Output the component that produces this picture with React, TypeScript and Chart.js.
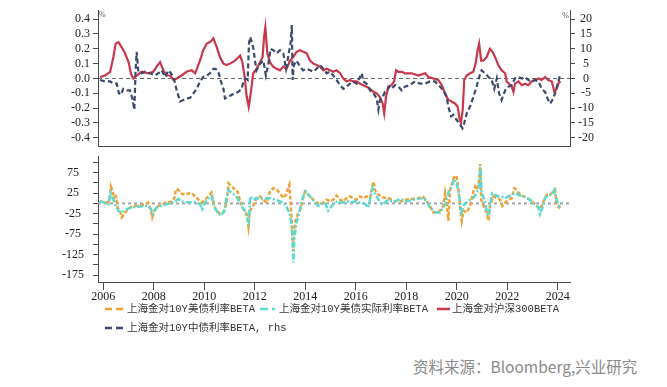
import React, { useEffect, useRef } from "react";
import { Chart, registerables } from "chart.js";
Chart.register(...registerables);

// ---------- data ----------
const yearTicks = [2006, 2008, 2010, 2012, 2014, 2016, 2018, 2020, 2022, 2024];
const leftTicks = [-0.4, -0.3, -0.2, -0.1, 0, 0.1, 0.2, 0.3, 0.4];
const rightTicks = [-20, -15, -10, -5, 0, 5, 10, 15, 20];
const lowerTicks = [-175, -150, -125, -100, -75, -50, -25, 0, 25, 50, 75, 100];
const lowerLabels = [75, 25, -25, -75, -125, -175];

const seriesNames = [
  "上海金对10Y美债利率BETA",
  "上海金对10Y美债实际利率BETA",
  "上海金对沪深300BETA",
  "上海金对10Y中债利率BETA, rhs",
];

// 上海金对沪深300BETA (left axis)
const csiYears = [2005.87, 2006.07, 2006.27, 2006.4, 2006.49, 2006.6, 2006.73, 2006.86, 2007.0, 2007.1, 2007.19, 2007.32, 2007.52, 2007.79, 2007.98, 2008.11, 2008.25, 2008.38, 2008.51, 2008.65, 2008.78, 2008.91, 2009.1, 2009.3, 2009.5, 2009.64, 2009.83, 2009.96, 2010.1, 2010.23, 2010.36, 2010.5, 2010.62, 2010.76, 2010.89, 2011.02, 2011.22, 2011.42, 2011.51, 2011.6, 2011.68, 2011.76, 2011.84, 2011.94, 2012.07, 2012.21, 2012.31, 2012.37, 2012.42, 2012.5, 2012.6, 2012.73, 2012.87, 2013.0, 2013.13, 2013.26, 2013.4, 2013.53, 2013.66, 2013.79, 2013.92, 2014.06, 2014.19, 2014.32, 2014.45, 2014.58, 2014.72, 2014.85, 2014.98, 2015.11, 2015.24, 2015.38, 2015.51, 2015.64, 2015.77, 2015.9, 2016.04, 2016.17, 2016.3, 2016.43, 2016.57, 2016.7, 2016.83, 2016.96, 2017.07, 2017.13, 2017.2, 2017.29, 2017.42, 2017.52, 2017.6, 2017.69, 2017.82, 2017.95, 2018.22, 2018.48, 2018.75, 2018.88, 2019.08, 2019.27, 2019.41, 2019.54, 2019.67, 2019.8, 2019.94, 2020.04, 2020.11, 2020.17, 2020.24, 2020.3, 2020.4, 2020.53, 2020.66, 2020.75, 2020.83, 2020.89, 2020.97, 2021.06, 2021.19, 2021.32, 2021.42, 2021.52, 2021.65, 2021.78, 2021.92, 2021.98, 2022.07, 2022.18, 2022.25, 2022.31, 2022.45, 2022.58, 2022.71, 2022.84, 2022.97, 2023.1, 2023.24, 2023.37, 2023.5, 2023.63, 2023.77, 2023.87, 2023.96, 2024.06, 2024.11];
const csiBeta = [0.01, 0.02, 0.045, 0.145, 0.235, 0.245, 0.21, 0.17, 0.11, 0.03, 0.0, 0.02, 0.045, 0.035, 0.045, 0.08, 0.11, 0.055, 0.02, 0.02, -0.01, 0.0, 0.02, 0.045, 0.055, 0.035, 0.12, 0.19, 0.235, 0.245, 0.27, 0.21, 0.145, 0.1, 0.09, 0.1, 0.12, 0.155, 0.11, 0.01, -0.12, -0.19, -0.1, 0.035, 0.065, 0.11, 0.145, 0.28, 0.345, 0.17, 0.11, 0.08, 0.065, 0.055, 0.08, 0.065, 0.12, 0.145, 0.18, 0.19, 0.18, 0.17, 0.12, 0.1, 0.09, 0.08, 0.055, 0.065, 0.055, 0.045, 0.055, 0.035, 0.0, -0.02, -0.01, -0.02, -0.02, -0.035, -0.045, -0.055, -0.07, -0.09, -0.1, -0.125, -0.17, -0.235, -0.125, -0.055, -0.045, -0.02, 0.055, 0.045, 0.045, 0.035, 0.035, 0.02, 0.035, 0.01, 0.0, -0.01, -0.045, -0.1, -0.145, -0.155, -0.17, -0.19, -0.27, -0.3, -0.21, -0.01, 0.02, 0.035, 0.045, 0.1, 0.19, 0.235, 0.12, 0.12, 0.145, 0.2, 0.18, 0.145, 0.09, 0.055, 0.035, -0.02, -0.035, -0.055, -0.09, -0.035, -0.02, -0.045, -0.035, -0.045, -0.02, -0.01, 0.0, -0.01, 0.01, -0.01, -0.02, -0.09, -0.07, -0.02, -0.03];

// 上海金对10Y中债利率BETA (right axis, %)
const cnYears = [2005.87, 2006.07, 2006.27, 2006.4, 2006.53, 2006.62, 2006.7, 2006.79, 2006.93, 2007.06, 2007.15, 2007.23, 2007.28, 2007.32, 2007.39, 2007.52, 2007.65, 2007.85, 2008.05, 2008.18, 2008.31, 2008.45, 2008.58, 2008.68, 2008.78, 2008.91, 2009.04, 2009.17, 2009.3, 2009.44, 2009.57, 2009.7, 2009.83, 2009.96, 2010.1, 2010.23, 2010.36, 2010.45, 2010.56, 2010.66, 2010.76, 2010.82, 2010.96, 2011.09, 2011.22, 2011.35, 2011.48, 2011.55, 2011.64, 2011.72, 2011.77, 2011.82, 2011.94, 2012.01, 2012.07, 2012.21, 2012.34, 2012.44, 2012.54, 2012.63, 2012.73, 2012.87, 2013.0, 2013.13, 2013.24, 2013.3, 2013.37, 2013.42, 2013.47, 2013.5, 2013.55, 2013.66, 2013.79, 2013.92, 2014.06, 2014.19, 2014.32, 2014.45, 2014.58, 2014.72, 2014.85, 2014.98, 2015.11, 2015.24, 2015.38, 2015.51, 2015.64, 2015.77, 2015.9, 2016.04, 2016.17, 2016.24, 2016.3, 2016.43, 2016.57, 2016.7, 2016.83, 2016.9, 2016.96, 2017.07, 2017.16, 2017.25, 2017.33, 2017.42, 2017.56, 2017.69, 2017.82, 2017.95, 2018.15, 2018.35, 2018.55, 2018.75, 2018.94, 2019.14, 2019.34, 2019.47, 2019.6, 2019.67, 2019.78, 2019.87, 2020.0, 2020.13, 2020.23, 2020.3, 2020.4, 2020.53, 2020.66, 2020.79, 2020.89, 2020.99, 2021.12, 2021.26, 2021.39, 2021.49, 2021.59, 2021.68, 2021.78, 2021.92, 2022.05, 2022.18, 2022.31, 2022.45, 2022.58, 2022.71, 2022.84, 2022.97, 2023.1, 2023.24, 2023.37, 2023.5, 2023.6, 2023.7, 2023.79, 2023.9, 2024.0, 2024.09];
const cnBeta = [-0.5, -1, -1, -1.75, -1.75, -5, -5.5, -3.5, -4, -4, -6.75, -10.5, 2.75, 9, 2.25, 1.75, 2.25, 1.75, 1, 1.75, 2.75, 0.5, 2.75, 1.75, 0.5, -4, -7.75, -7.25, -6.75, -6.5, -5, -3.5, -1, 0.5, 1, 1.75, 3.25, 3.25, 2.25, -1, -3.5, -6.75, -6.25, -5.5, -5, -4.5, -3.5, -1, 0, -0.5, 11.75, 14, 10.5, 6, 2.75, 5, 6, 1, 5, 10, 9.5, 8.5, 9.5, 8.5, 3.25, 6, 9.5, 11.75, 18, -0.5, 4.5, 6, 4, 2.75, 3.25, 2.75, 2.25, 3.25, 4.5, 3.25, 1.75, 2.25, 1, -0.5, -2.25, -3.5, -2.75, -1.75, -1, -1.75, 0.5, 1.75, -1, -1.75, -4, -5, -6.75, -10.5, -7.25, -6.25, -4.5, -4, -2.75, -3.5, -2.25, -2.75, -4, -2.75, -2.25, -1, -1.75, -1.75, -1, -1, -2.75, -4, -6.25, -9.5, -12.75, -12.25, -14, -15.5, -16.75, -15, -11.75, -9.5, -6.25, -2.75, 0.5, 2.75, 1.75, 0.5, -0.5, -3.5, 0, -5, -7.25, -4, -2.75, -2.25, 0, 0.5, 0, 0.5, -0.5, -1, -0.5, -1, -3.5, -4.5, -6.75, -8.5, -7.25, -5, -1.75, 1];

// 上海金对10Y美债利率BETA (lower panel)
const usYears = [2005.87, 2006.07, 2006.2, 2006.27, 2006.3, 2006.35, 2006.44, 2006.5, 2006.57, 2006.66, 2006.73, 2006.83, 2006.93, 2007.06, 2007.26, 2007.45, 2007.65, 2007.79, 2007.89, 2007.94, 2008.05, 2008.18, 2008.31, 2008.45, 2008.58, 2008.71, 2008.82, 2008.88, 2008.97, 2009.1, 2009.24, 2009.37, 2009.5, 2009.64, 2009.77, 2009.9, 2010.03, 2010.16, 2010.29, 2010.4, 2010.49, 2010.62, 2010.76, 2010.89, 2010.96, 2011.09, 2011.22, 2011.32, 2011.42, 2011.55, 2011.68, 2011.75, 2011.81, 2011.94, 2012.07, 2012.21, 2012.34, 2012.47, 2012.6, 2012.73, 2012.87, 2013.0, 2013.13, 2013.24, 2013.3, 2013.37, 2013.42, 2013.46, 2013.5, 2013.53, 2013.55, 2013.63, 2013.73, 2013.82, 2013.9, 2013.99, 2014.08, 2014.19, 2014.32, 2014.45, 2014.58, 2014.72, 2014.85, 2014.98, 2015.11, 2015.24, 2015.38, 2015.51, 2015.64, 2015.77, 2015.9, 2016.04, 2016.17, 2016.3, 2016.43, 2016.57, 2016.63, 2016.7, 2016.76, 2016.9, 2017.03, 2017.16, 2017.29, 2017.42, 2017.56, 2017.69, 2017.82, 2017.95, 2018.22, 2018.48, 2018.68, 2018.81, 2018.94, 2019.08, 2019.21, 2019.34, 2019.47, 2019.54, 2019.6, 2019.67, 2019.74, 2019.87, 2019.94, 2020.0, 2020.07, 2020.13, 2020.2, 2020.27, 2020.4, 2020.53, 2020.66, 2020.73, 2020.79, 2020.89, 2020.93, 2020.97, 2021.06, 2021.19, 2021.26, 2021.32, 2021.45, 2021.59, 2021.72, 2021.81, 2021.92, 2022.05, 2022.18, 2022.29, 2022.38, 2022.51, 2022.64, 2022.78, 2022.91, 2023.04, 2023.17, 2023.3, 2023.44, 2023.57, 2023.7, 2023.83, 2023.9, 2023.96, 2024.06, 2024.16];
const usBeta = [5, 2, 3, 21, 41, 33, 13, 17, -10, -18, -34, -26, -18, -10, -6, -6, -2, 2, -18, -34, -14, -6, -5, 2, 3, 5, 13, 35, 33, 24, 21, 24, 25, 17, 9, 2, 9, 17, 27, -6, -18, -26, -22, 2, 49, 41, 33, 29, 6, -14, -26, -57, -18, -6, 13, 17, 9, 2, 29, 37, 33, 25, 13, 21, 33, 45, 2, -38, -85, -116, -69, -38, -22, -14, 9, 29, 25, 17, 9, 2, -2, 2, 9, 5, 9, 19, 9, 5, 13, 17, 13, 9, 17, 13, 17, 13, 33, 53, 33, 21, 17, 13, 13, 9, 5, 5, 5, 9, 11, 13, 16, 5, -6, -22, -22, -18, -6, 25, 2, -42, 33, 60, 68, 64, 33, -6, -42, -18, -22, -6, 29, 41, 33, 56, 96, 9, -6, -22, -42, -6, 17, 13, 9, -6, 2, 9, 13, 37, 33, 21, 17, 13, 9, 2, -6, -14, 5, 21, 21, 29, 33, -6, -10, -2];

// 上海金对10Y美债实际利率BETA (lower panel)
const realYears = [2005.87, 2006.07, 2006.2, 2006.3, 2006.4, 2006.49, 2006.6, 2006.7, 2006.83, 2006.99, 2007.19, 2007.39, 2007.59, 2007.79, 2007.89, 2007.98, 2008.11, 2008.31, 2008.51, 2008.71, 2008.84, 2008.97, 2009.1, 2009.3, 2009.5, 2009.7, 2009.83, 2009.92, 2010.03, 2010.16, 2010.29, 2010.4, 2010.53, 2010.66, 2010.8, 2010.89, 2010.96, 2011.09, 2011.22, 2011.35, 2011.48, 2011.61, 2011.72, 2011.77, 2011.82, 2011.94, 2012.07, 2012.21, 2012.4, 2012.6, 2012.8, 2013.0, 2013.13, 2013.24, 2013.33, 2013.4, 2013.46, 2013.5, 2013.53, 2013.57, 2013.66, 2013.79, 2013.92, 2014.03, 2014.12, 2014.25, 2014.39, 2014.52, 2014.65, 2014.78, 2014.91, 2015.05, 2015.18, 2015.31, 2015.44, 2015.58, 2015.71, 2015.84, 2015.97, 2016.1, 2016.24, 2016.37, 2016.5, 2016.59, 2016.67, 2016.76, 2016.9, 2017.03, 2017.16, 2017.29, 2017.42, 2017.56, 2017.69, 2017.82, 2018.02, 2018.22, 2018.48, 2018.68, 2018.81, 2018.94, 2019.08, 2019.21, 2019.34, 2019.47, 2019.6, 2019.7, 2019.8, 2019.91, 2020.0, 2020.07, 2020.13, 2020.2, 2020.3, 2020.4, 2020.53, 2020.66, 2020.79, 2020.89, 2020.94, 2020.99, 2021.1, 2021.19, 2021.26, 2021.32, 2021.41, 2021.52, 2021.65, 2021.78, 2021.92, 2022.05, 2022.18, 2022.31, 2022.45, 2022.58, 2022.71, 2022.84, 2022.97, 2023.1, 2023.24, 2023.3, 2023.4, 2023.5, 2023.63, 2023.77, 2023.87, 2023.96, 2024.06, 2024.16];
const realBeta = [5, 2, -2, 25, 9, -6, -18, -22, -18, -12, -9, -8, -6, -6, -14, -26, -10, -6, -2, 2, 5, 11, 5, 3, 3, 2, -2, -14, 2, 13, 17, -10, -22, -30, -18, 17, 33, 25, 21, 9, -6, -18, -38, -46, 17, 9, 13, 11, 11, 13, 9, 5, 2, -6, -18, -30, -53, -93, -144, -85, -46, -14, 17, 29, 21, 13, 2, -6, -2, 2, -18, -6, 2, 5, 2, 2, 5, 3, 5, 2, 2, -2, -10, 17, 37, 25, 9, -2, 2, 9, 5, 5, 9, 9, 5, 8, 11, 13, 5, -10, -18, -22, -22, -10, 5, 33, 41, 60, 49, 29, 5, -22, -2, 2, 9, 13, 25, 41, 88, 25, 9, -18, -30, -6, 25, 21, 17, 17, 13, 17, 21, 25, 21, 17, 16, 11, 5, -2, -10, -26, -10, 13, 21, 21, 33, 9, -6, 2];

// ---------- styling ----------
const X_MIN = 2005.79;
const X_MAX = 2024.49;
const C_ORANGE = "#F0A236";
const C_CYAN = "#5CD9D1";
const C_RED = "#C8374B";
const C_NAVY = "#3B4A6C";
const AXIS = "#4a4a4a";
const TICK_FONT = { family: "'Liberation Serif', 'DejaVu Serif', serif", size: 12 };
const LEGEND_FONT = "'Liberation Mono', 'Noto Sans CJK SC', monospace";
const CJK = "'Noto Sans CJK SC', 'Noto Sans', sans-serif";

const zip = (xs: number[], ys: number[]) => xs.map((x, i) => ({ x, y: ys[i] }));

const zeroLine = (id: string, scaleId: string, color: string, dash: number[], width: number) => ({
  id,
  beforeDatasetsDraw(chart: any) {
    const { ctx, chartArea } = chart;
    const y = chart.scales[scaleId].getPixelForValue(0);
    ctx.save();
    ctx.strokeStyle = color;
    ctx.lineWidth = width;
    ctx.setLineDash(dash);
    ctx.beginPath();
    ctx.moveTo(chartArea.left, y);
    ctx.lineTo(chartArea.right, y);
    ctx.stroke();
    ctx.restore();
  },
});

const unitLabels = {
  id: "unitLabels",
  afterDraw(chart: any) {
    const { ctx, chartArea } = chart;
    ctx.save();
    ctx.fillStyle = "#555";
    ctx.font = "8px 'Liberation Serif', serif";
    ctx.textBaseline = "middle";
    ctx.textAlign = "left";
    ctx.fillText("%", chartArea.left + 1, chartArea.top + 5);
    ctx.textAlign = "right";
    ctx.fillText("%", chartArea.right - 1, chartArea.top + 6);
    ctx.restore();
  },
};

function TopChart() {
  const ref = useRef<HTMLCanvasElement>(null);
  useEffect(() => {
    const chart = new Chart(ref.current!, {
      type: "line",
      data: {
        datasets: [
          {
            label: seriesNames[3],
            data: zip(cnYears, cnBeta),
            yAxisID: "yR",
            borderColor: C_NAVY,
            borderWidth: 2.2,
            borderDash: [5, 3],
            pointRadius: 0,
          },
          {
            label: seriesNames[2],
            data: zip(csiYears, csiBeta),
            yAxisID: "yL",
            borderColor: C_RED,
            borderWidth: 2.2,
            pointRadius: 0,
          },
        ],
      },
      options: {
        animation: false,
        responsive: false,
        maintainAspectRatio: false,
        layout: { padding: { top: 10, bottom: 14, left: 0, right: 0 } },
        plugins: { legend: { display: false }, tooltip: { enabled: false } },
        scales: {
          x: {
            type: "linear",
            min: X_MIN,
            max: X_MAX,
            ticks: { display: false },
            grid: { display: false },
            border: { display: true, color: AXIS, width: 1 },
            afterFit: (s: any) => { s.height = 0; },
          },
          yL: {
            type: "linear",
            position: "left",
            min: -0.455,
            max: 0.46,
            afterBuildTicks: (s: any) => { s.ticks = leftTicks.map((v) => ({ value: v })); },
            ticks: { callback: (v: any) => Number(v).toFixed(1), font: TICK_FONT, color: "#222", padding: 3, autoSkip: false },
            grid: { drawOnChartArea: false, tickLength: 5, tickColor: AXIS },
            border: { color: AXIS },
            afterFit: (s: any) => { s.width = 98; },
          },
          yR: {
            type: "linear",
            position: "right",
            min: -22.75,
            max: 23,
            afterBuildTicks: (s: any) => { s.ticks = rightTicks.map((v) => ({ value: v })); },
            ticks: { font: TICK_FONT, color: "#222", padding: 3, crossAlign: "center", autoSkip: false },
            grid: { drawOnChartArea: false, tickLength: 5, tickColor: AXIS },
            border: { color: AXIS },
            afterFit: (s: any) => { s.width = 97; },
          },
        },
      } as any,
      plugins: [zeroLine("zeroTop", "yL", "#666", [4, 3], 1), unitLabels],
    });
    return () => chart.destroy();
  }, []);
  return <canvas ref={ref} width={667} height={160} style={{ position: "absolute", left: 0, top: 0, width: 667, height: 160 }} />;
}

function BottomChart() {
  const ref = useRef<HTMLCanvasElement>(null);
  useEffect(() => {
    const chart = new Chart(ref.current!, {
      type: "line",
      data: {
        datasets: [
          {
            label: seriesNames[1],
            data: zip(realYears, realBeta),
            borderColor: C_CYAN,
            borderWidth: 2.5,
            borderDash: [6, 2, 2, 2],
            pointRadius: 0,
          },
          {
            label: seriesNames[0],
            data: zip(usYears, usBeta),
            borderColor: C_ORANGE,
            borderWidth: 2.5,
            borderDash: [4, 2],
            pointRadius: 0,
          },
        ],
      },
      options: {
        animation: false,
        responsive: false,
        maintainAspectRatio: false,
        layout: { padding: { top: 12, bottom: 0, left: 0, right: 97 } },
        plugins: { legend: { display: false }, tooltip: { enabled: false } },
        scales: {
          x: {
            type: "linear",
            min: X_MIN,
            max: X_MAX,
            afterBuildTicks: (s: any) => { s.ticks = yearTicks.map((v) => ({ value: v })); },
            ticks: { callback: (v: any) => String(v), font: TICK_FONT, color: "#222", padding: 0, maxRotation: 0, autoSkip: false },
            grid: { drawOnChartArea: false, tickLength: 8, tickColor: AXIS },
            border: { color: AXIS },
            afterFit: (s: any) => { s.height = 26; },
          },
          y: {
            type: "linear",
            position: "left",
            min: -191.5,
            max: 115,
            afterBuildTicks: (s: any) => { s.ticks = lowerTicks.map((v) => ({ value: v })); },
            ticks: {
              callback: (v: any) => (lowerLabels.includes(Number(v)) ? String(v) : ""),
              font: TICK_FONT,
              color: "#222",
              padding: 9,
              crossAlign: "center",
              autoSkip: false,
            },
            grid: { drawOnChartArea: false, tickLength: 5, tickColor: AXIS },
            border: { color: AXIS },
            afterFit: (s: any) => { s.width = 98; },
          },
        },
      } as any,
      plugins: [zeroLine("zeroBottom", "y", "#a6a6a6", [3, 3], 2)],
    });
    return () => chart.destroy();
  }, []);
  return <canvas ref={ref} width={667} height={168} style={{ position: "absolute", left: 0, top: 140, width: 667, height: 168 }} />;
}

function Swatch({ color, dash, width }: { color: string; dash?: string; width: number }) {
  return (
    <svg width={width} height={6} style={{ display: "block" }}>
      <line x1={0} y1={3} x2={width} y2={3} stroke={color} strokeWidth={2.5} strokeDasharray={dash} />
    </svg>
  );
}

const legendItems = [
  { name: seriesNames[0], color: C_ORANGE, dash: "7 4", sx: 105, sw: 19, tx: 127, row: 0 },
  { name: seriesNames[1], color: C_CYAN, dash: "8 4 3 4", sx: 260, sw: 17, tx: 279, row: 0 },
  { name: seriesNames[2], color: C_RED, dash: undefined, sx: 437, sw: 13, tx: 452, row: 0 },
  { name: seriesNames[3], color: C_NAVY, dash: "7 4", sx: 105, sw: 19, tx: 127, row: 1 },
];
const rowY = [309, 328];

export default function App() {
  return (
    <div style={{ position: "fixed", left: 0, top: 0, width: 667, height: 387, background: "#fff", overflow: "hidden" }}>
      <TopChart />
      <BottomChart />
      {legendItems.map((it) => (
        <React.Fragment key={it.name}>
          <div style={{ position: "absolute", left: it.sx, top: rowY[it.row] - 3 }}>
            <Swatch color={it.color} dash={it.dash} width={it.sw} />
          </div>
          <div
            style={{
              position: "absolute",
              left: it.tx,
              top: rowY[it.row] - 8,
              fontFamily: LEGEND_FONT,
              fontSize: 10.5,
              lineHeight: "16px",
              color: "#333",
              whiteSpace: "nowrap",
            }}
          >
            {it.name}
          </div>
        </React.Fragment>
      ))}
      <div
        style={{
          position: "absolute",
          left: 413,
          top: 356,
          fontFamily: CJK,
          fontSize: 15.5,
          lineHeight: "20px",
          color: "#8a8a8a",
          whiteSpace: "nowrap",
        }}
      >
        资料来源：Bloomberg,兴业研究
      </div>
    </div>
  );
}
